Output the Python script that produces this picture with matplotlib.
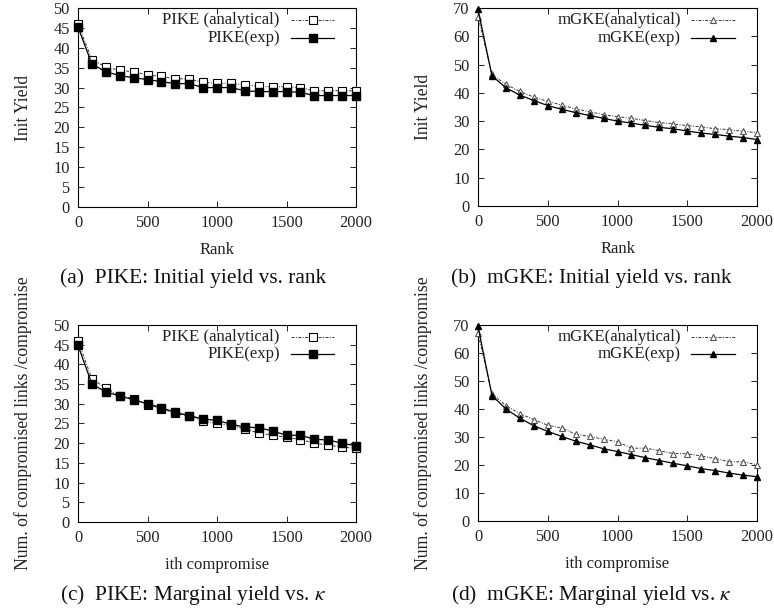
import numpy as np
import matplotlib
matplotlib.use("Agg")
import matplotlib.pyplot as plt
from matplotlib.lines import Line2D

plt.rcParams['font.family'] = ['Liberation Serif', 'DejaVu Serif']
plt.rcParams['mathtext.fontset'] = 'stix'

# data
x = np.arange(0, 2001, 100)

pike_init_ana = [46, 37, 35.2, 34.3, 34, 33.2, 32.8, 32.2, 32.2, 31.3, 31.1,
                 31.1, 30.7, 30.3, 30.2, 30.2, 30, 29.2, 29.2, 29.2, 29.2]
pike_init_exp = [45.2, 35.9, 34, 33, 32.5, 32, 31.5, 31, 31, 30, 30,
                 30, 29.2, 29, 29, 29, 28.8, 28, 28, 28, 28]

mgke_init_ana = [67, 46.5, 43, 40.5, 38.5, 37, 35.7, 34.3, 33.3, 32.3, 31.6,
                 31, 30.2, 29.5, 29, 28.4, 28, 27.3, 27, 26.4, 25.9]
mgke_init_exp = [69.5, 46, 41.8, 39.2, 37.3, 35.5, 34.2, 33, 32, 31, 30,
                 29.3, 28.5, 27.8, 27.3, 26.5, 25.8, 25.3, 24.7, 24.2, 23.5]

pike_marg_ana = [46, 36.3, 34, 32, 31.3, 29.8, 28.8, 27.6, 26.9, 25.7, 25,
                 24.5, 23.6, 22.6, 22, 21.5, 20.9, 20, 19.5, 19, 18.7]
pike_marg_exp = [44.8, 35, 33, 32, 31, 30, 29, 27.8, 27, 26.1, 25.8,
                 24.8, 24.1, 23.9, 23.1, 22, 22, 21, 20.8, 20, 19.3]

mgke_marg_ana = [67, 45.5, 41.2, 38.3, 36.2, 34.2, 33.2, 31, 30.2, 29.2, 28.3,
                 26, 26, 25.1, 24.1, 24, 23.2, 22.3, 21.2, 21.1, 20.1]
mgke_marg_exp = [69.5, 44.8, 40, 36.7, 34, 32, 30.2, 28.5, 27.2, 25.8, 24.8,
                 23.7, 22.6, 21.6, 20.6, 19.7, 18.7, 18, 17.1, 16.4, 15.8]

panels = [
    dict(pos=[0.1008, 0.6618, 0.3592, 0.3251], ana=pike_init_ana, exp=pike_init_exp,
         ylim=50, ystep=5, marker='s', labels=['PIKE (analytical)', 'PIKE(exp)'],
         xlabel='Rank', ylabel='Init Yield',
         caption='(a)  PIKE: Initial yield vs. rank', cap_xy=(193, 278)),
    dict(pos=[0.6176, 0.6634, 0.3605, 0.3235], ana=mgke_init_ana, exp=mgke_init_exp,
         ylim=70, ystep=10, marker='^', labels=['mGKE(analytical)', 'mGKE(exp)'],
         xlabel='Rank', ylabel='Init Yield',
         caption='(b)  mGKE: Initial yield vs. rank', cap_xy=(591, 278)),
    dict(pos=[0.1008, 0.1471, 0.3592, 0.3219], ana=pike_marg_ana, exp=pike_marg_exp,
         ylim=50, ystep=5, marker='s', labels=['PIKE (analytical)', 'PIKE(exp)'],
         xlabel='ith compromise', ylabel='Num. of compromised links /compromise',
         caption='(c)  PIKE: Marginal yield vs. $\\kappa$', cap_xy=(193, 595)),
    dict(pos=[0.6176, 0.1487, 0.3605, 0.3203], ana=mgke_marg_ana, exp=mgke_marg_exp,
         ylim=70, ystep=10, marker='^', labels=['mGKE(analytical)', 'mGKE(exp)'],
         xlabel='ith compromise', ylabel='Num. of compromised links /compromise',
         caption='(d)  mGKE: Marginal yield vs. $\\kappa$', cap_xy=(591, 595)),
]

W, H = 774, 612
fig = plt.figure(figsize=(W / 100, H / 100), dpi=100)

for p in panels:
    ax = fig.add_axes(p['pos'])
    sq = p['marker'] == 's'
    ms = 5.5 if sq else 4.5
    ana_style = dict(color='#333333', lw=0.7, dashes=(3, 1.5, 1, 1.5),
                     marker=p['marker'], ms=ms, mfc='white',
                     mec='black' if sq else '#555555', mew=0.8, clip_on=False, zorder=3)
    exp_style = dict(color='black', lw=0.9, ls='-', marker=p['marker'],
                     ms=ms, mfc='black', mec='black', clip_on=False, zorder=4)
    ax.plot(x, p['ana'], **ana_style)
    ax.plot(x, p['exp'], **exp_style)

    ax.set_xlim(0, 2000)
    ax.set_ylim(0, p['ylim'])
    ax.set_xticks(np.arange(0, 2001, 500))
    ax.set_yticks(np.arange(0, p['ylim'] + 1, p['ystep']))
    ax.tick_params(direction='in', top=True, right=True, length=4, width=0.7,
                   labelsize=11.8, pad=6, colors='#222222')
    for s in ax.spines.values():
        s.set_linewidth(0.8)
    ax.set_xlabel(p['xlabel'], fontsize=12, labelpad=8, color='#222222')
    ax.set_ylabel(p['ylabel'], fontsize=12.7, labelpad=15, color='#222222')

    # gnuplot-like key: right-aligned text, sample to the right
    for i, (lab, st) in enumerate(zip(p['labels'], [ana_style, exp_style])):
        yk = 0.938 - i * 0.087
        ax.text(0.726, yk, lab, transform=ax.transAxes, ha='right', va='center',
                fontsize=12.1, color='#222222')
        st2 = dict(st)
        st2['clip_on'] = False
        ax.add_line(Line2D([0.765, 0.922], [yk, yk], transform=ax.transAxes,
                           markevery=[], **st2))
        ax.add_line(Line2D([0.8435], [yk], transform=ax.transAxes,
                           **{k: v for k, v in st2.items() if k not in ('dashes', 'ls')},
                           linestyle='none'))

    fig.text(p['cap_xy'][0] / W, 1 - p['cap_xy'][1] / H, p['caption'],
             ha='center', va='center', fontsize=15.4, color='#111111')

fig.savefig('out.png', dpi=100)
